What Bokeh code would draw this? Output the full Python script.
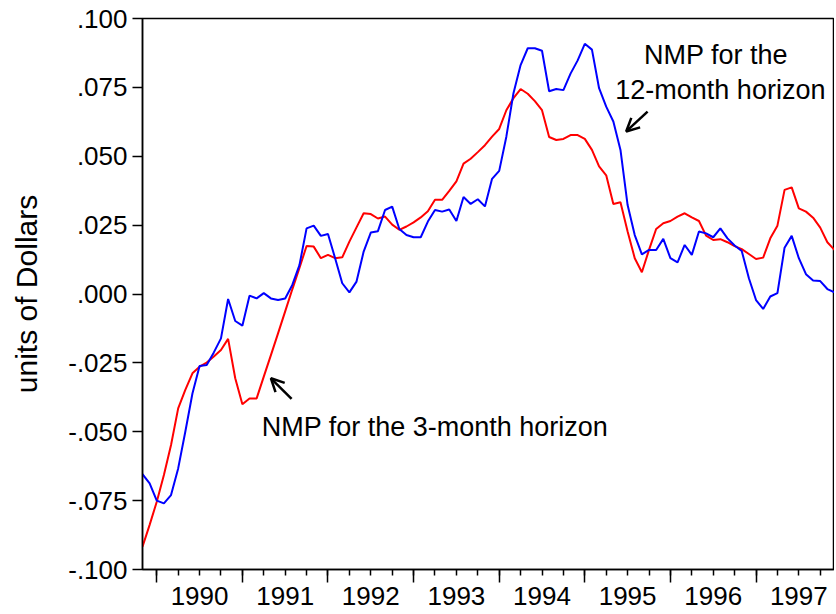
import pandas as pd
from bokeh.plotting import figure
from bokeh.models import (Range1d, FixedTicker, LinearAxis, Label, Arrow, OpenHead,
                          ColumnDataSource, CustomLabelingPolicy)
from bokeh.embed import file_html
from bokeh.resources import INLINE

# ---- data (monthly, 1989:11 - 1997:12) ----
months = pd.period_range("1989-11", "1997-12", freq="M")

nmp_12m = [
    -0.0654, -0.0687, -0.0750, -0.0760, -0.0730, -0.0633, -0.0500, -0.0361, -0.0261, -0.0258,
    -0.0212, -0.0161, -0.0018, -0.0098, -0.0115, -0.0006, -0.0016, 0.0003, -0.0016, -0.0022,
    -0.0016, 0.0033, 0.0105, 0.0238, 0.0248, 0.0211, 0.0218, 0.0130, 0.0039, 0.0006,
    0.0045, 0.0154, 0.0223, 0.0228, 0.0305, 0.0317, 0.0236, 0.0214, 0.0206, 0.0206,
    0.0263, 0.0305, 0.0299, 0.0307, 0.0265, 0.0352, 0.0327, 0.0344, 0.0318, 0.0418,
    0.0447, 0.0571, 0.0729, 0.0831, 0.0892, 0.0892, 0.0883, 0.0736, 0.0744, 0.0740,
    0.0800, 0.0848, 0.0908, 0.0887, 0.0747, 0.0680, 0.0626, 0.0523, 0.0323, 0.0214,
    0.0144, 0.0160, 0.0160, 0.0200, 0.0130, 0.0115, 0.0178, 0.0142, 0.0227, 0.0220,
    0.0206, 0.0238, 0.0202, 0.0176, 0.0156, 0.0057, -0.0022, -0.0054, -0.0009, 0.0003,
    0.0168, 0.0211, 0.0130, 0.0072, 0.0049, 0.0047, 0.0018, 0.0006,
]

nmp_3m = [
    -0.0917, -0.0838, -0.0754, -0.0657, -0.0548, -0.0415, -0.0348, -0.0288, -0.0264, -0.0249,
    -0.0227, -0.0203, -0.0163, -0.0306, -0.0400, -0.0379, -0.0379, -0.0300, -0.0222, -0.0143,
    -0.0063, 0.0017, 0.0095, 0.0174, 0.0172, 0.0130, 0.0142, 0.0130, 0.0133, 0.0190,
    0.0242, 0.0293, 0.0290, 0.0274, 0.0281, 0.0252, 0.0233, 0.0245, 0.0260, 0.0278,
    0.0300, 0.0342, 0.0342, 0.0374, 0.0409, 0.0473, 0.0491, 0.0515, 0.0540, 0.0571,
    0.0599, 0.0667, 0.0711, 0.0744, 0.0727, 0.0700, 0.0667, 0.0570, 0.0559, 0.0563,
    0.0577, 0.0577, 0.0563, 0.0523, 0.0463, 0.0431, 0.0327, 0.0333, 0.0227, 0.0130,
    0.0079, 0.0160, 0.0236, 0.0257, 0.0265, 0.0281, 0.0293, 0.0278, 0.0265, 0.0212,
    0.0196, 0.0199, 0.0188, 0.0174, 0.0163, 0.0145, 0.0127, 0.0132, 0.0202, 0.0248,
    0.0378, 0.0387, 0.0311, 0.0299, 0.0277, 0.0241, 0.0188, 0.0160,
]

y_ticks = [0.100, 0.075, 0.050, 0.025, 0.000, -0.025, -0.050, -0.075, -0.100]
y_tick_labels = [".100", ".075", ".050", ".025", ".000", "-.025", "-.050", "-.075", "-.100"]
year_labels = ["1990", "1991", "1992", "1993", "1994", "1995", "1996", "1997"]

# ---- positions on the monthly axis ----
idx = list(range(len(months)))
jan_pos = [i for i, m in enumerate(months) if m.month == 1]
qtr_pos = [i for i, m in enumerate(months) if m.month in (1, 4, 7, 10)]
mid_pos = [i for i, m in enumerate(months) if m.month == 7]

src = ColumnDataSource(dict(x=idx, m12=nmp_12m, m3=nmp_3m))

FONT = "Liberation Sans"

p = figure(width=834, height=612, x_range=Range1d(0, len(months) - 1), y_range=Range1d(-0.1, 0.1),
           output_backend="svg", toolbar_location=None,
           min_border_left=142, min_border_right=0, min_border_top=18, min_border_bottom=43)
p.grid.visible = False
p.outline_line_color = "black"
p.outline_line_width = 1.5
p.background_fill_color = "white"
p.border_fill_color = "white"

p.line("x", "m3", source=src, line_color="#FF0000", line_width=2)
p.line("x", "m12", source=src, line_color="#0000FF", line_width=2)

# y axis
ya = p.yaxis[0]
ya.ticker = FixedTicker(ticks=y_ticks, minor_ticks=[])
ya.major_label_overrides = {v: s for v, s in zip(y_ticks, y_tick_labels)}
ya.major_tick_in = 0
ya.major_tick_out = 10
ya.major_tick_line_width = 1.5
ya.axis_line_width = 1.5
ya.major_label_text_font = FONT
ya.major_label_text_font_size = "26px"
ya.major_label_text_color = "black"
ya.major_label_standoff = 5
ya.axis_label = "units of Dollars"
ya.axis_label_text_font = FONT
ya.axis_label_text_font_size = "30px"
ya.axis_label_text_font_style = "normal"
ya.axis_label_text_color = "black"
ya.axis_label_standoff = 22

# x axis: tick marks only (labels suppressed)
xa = p.xaxis[0]
xa.ticker = FixedTicker(ticks=jan_pos, minor_ticks=qtr_pos)
xa.major_tick_in = 0
xa.major_tick_out = 13
xa.minor_tick_in = 0
xa.minor_tick_out = 6
xa.major_tick_line_width = 1.5
xa.minor_tick_line_width = 1.5
xa.axis_line_width = 1.5
xa.major_label_policy = CustomLabelingPolicy(code="return []")
xa.major_label_text_font_size = "1px"
xa.major_label_standoff = 0

# x axis: year labels centred on mid-year
xl = LinearAxis(ticker=FixedTicker(ticks=mid_pos, minor_ticks=[]),
                major_label_overrides={pos: lab for pos, lab in zip(mid_pos, year_labels)},
                axis_line_color=None, major_tick_line_color=None, minor_tick_line_color=None,
                major_tick_in=0, major_tick_out=0,
                major_label_text_font=FONT, major_label_text_font_size="26px",
                major_label_text_color="black", major_label_standoff=0)
p.add_layout(xl, "below")

# annotations
lab_3m = dict(x=16.7, y=-0.0484, text="NMP for the 3-month horizon")
lab_12a = dict(x=80.4, y=0.0867, text="NMP for the")
lab_12b = dict(x=81.0, y=0.0739, text="12-month horizon")
p.add_layout(Label(x=lab_3m["x"], y=lab_3m["y"], text=lab_3m["text"], text_font=FONT,
                   text_font_size="27px", text_align="left", text_baseline="alphabetic",
                   text_color="black"))
for d in (lab_12a, lab_12b):
    p.add_layout(Label(x=d["x"], y=d["y"], text=d["text"], text_font=FONT,
                       text_font_size="27px", text_align="center", text_baseline="alphabetic",
                       text_color="black"))

arrow_3m = dict(x0=20.9, y0=-0.0381, x1=18.0, y1=-0.0306)
arrow_12m = dict(x0=70.8, y0=0.0662, x1=67.8, y1=0.0590)
for a in (arrow_3m, arrow_12m):
    p.add_layout(Arrow(end=OpenHead(size=13, line_width=2.5, line_color="black"),
                       x_start=a["x0"], y_start=a["y0"], x_end=a["x1"], y_end=a["y1"],
                       line_width=2.5, line_color="black"))

open("out.html", "w").write(file_html(p, INLINE))
